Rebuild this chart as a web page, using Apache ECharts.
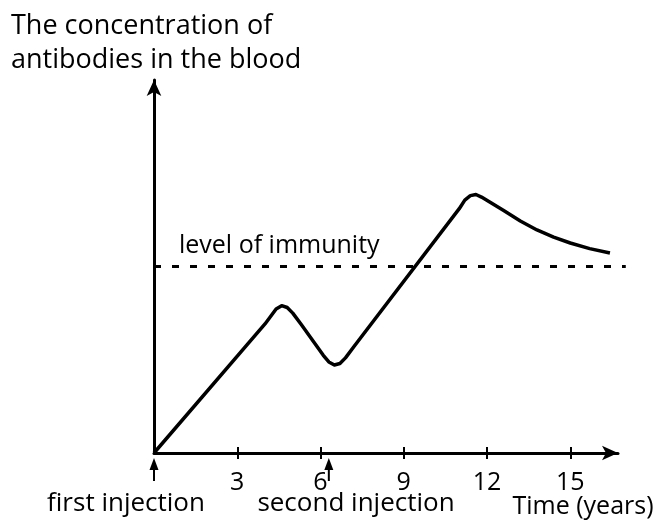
<!DOCTYPE html>
<html>
<head>
<meta charset="utf-8">
<script src="https://cdn.jsdelivr.net/npm/echarts@6/dist/echarts.min.js"></script>
<style>
  html, body { margin: 0; padding: 0; background: #fff; }
  #chart { width: 662px; height: 529px; }
</style>
</head>
<body>
<div id="chart"></div>
<script>
// time in years, concentration in arbitrary units (0..10)
var timeYears = [0, 4.0, 4.2, 4.4, 4.6, 4.8, 5.0, 5.3, 6.1, 6.3, 6.5, 6.7, 6.9, 7.2,
    11.0, 11.2, 11.4, 11.6, 11.8, 12.6, 13.2, 13.8, 14.4, 15.0, 15.7, 16.43];
var concentration = [0, 3.46, 3.66, 3.86, 3.95, 3.9, 3.75, 3.45, 2.62, 2.44, 2.36, 2.4, 2.55, 2.85,
    6.55, 6.78, 6.9, 6.93, 6.86, 6.5, 6.22, 5.98, 5.79, 5.63, 5.48, 5.36];
var immunityLevel = 5.0;
var immunityRange = [0, 17];
var tickValues = [3, 6, 9, 12, 15];
var tickLabels = ['3', '6', '9', '12', '15'];
var injectionTimes = [0, 6.3];
var injectionNames = ['first injection', 'second injection'];

var font = "'Open Sans', 'DejaVu Sans', sans-serif";
var chartDom = document.getElementById('chart');
var myChart = echarts.init(chartDom);

var curve = timeYears.map(function (t, i) { return [t, concentration[i]]; });
var pxPerYear = (662 - 154 - 44) / 16.72;

var xCommon = {
    type: 'value',
    gridIndex: 0,
    min: 0,
    max: 16.72,
    interval: 3,
    splitLine: { show: false }
};

var option = {
    animation: false,
    backgroundColor: '#fff',
    title: {
        text: 'The concentration of\nantibodies in the blood',
        left: 6,
        top: 4,
        textStyle: { fontFamily: font, fontSize: 27, fontWeight: 'normal', color: '#000', lineHeight: 34 }
    },
    grid: [
        { left: 154, right: 44, top: 80, bottom: 76 },
        // wider grid with the same scale, so the dashed level can run past the axis arrow
        { left: 154, right: 662 - 154 - 17.1 * pxPerYear, top: 80, bottom: 76 }
    ],
    xAxis: [
        Object.assign({}, xCommon, {
            axisLine: { lineStyle: { color: '#000', width: 3 }, symbol: ['none', 'arrow'], symbolSize: [11, 16] },
            axisTick: { show: true, length: 6, customValues: tickValues, lineStyle: { color: '#000', width: 2 } },
            axisLabel: {
                margin: 17,
                color: '#000',
                fontFamily: font,
                fontSize: 25,
                customValues: tickValues,
                formatter: function (v) {
                    return tickLabels[tickValues.indexOf(v)] || '';
                }
            }
        }),
        Object.assign({}, xCommon, {
            position: 'bottom',
            axisLine: { show: false },
            axisTick: { show: true, inside: true, length: 6, customValues: tickValues, lineStyle: { color: '#000', width: 2 } },
            axisLabel: { show: false }
        }),
        { type: 'value', gridIndex: 1, min: 0, max: 17.1, show: false }
    ],
    yAxis: [
        {
            type: 'value',
            gridIndex: 0,
            min: 0,
            max: 10,
            axisLine: { show: true, lineStyle: { color: '#000', width: 3 }, symbol: ['none', 'arrow'], symbolSize: [11, 16] },
            axisTick: { show: false },
            axisLabel: { show: false },
            splitLine: { show: false }
        },
        { type: 'value', gridIndex: 1, min: 0, max: 10, show: false }
    ],
    series: [
        {
            type: 'line',
            data: curve,
            smooth: false,
            showSymbol: false,
            lineStyle: { color: '#000', width: 3.5, join: 'round' }
        },
        {
            type: 'line',
            xAxisIndex: 2,
            yAxisIndex: 1,
            data: immunityRange.map(function (t) { return [t, immunityLevel]; }),
            showSymbol: false,
            lineStyle: { color: '#000', width: 3, type: [7, 11] }
        }
    ]
};
myChart.setOption(option);

// annotations placed from data coordinates
var graphics = [];
injectionTimes.forEach(function (t, i) {
    var p = myChart.convertToPixel({ xAxisIndex: 0, yAxisIndex: 0 }, [t, 0]);
    graphics.push({
        type: 'line',
        shape: { x1: p[0], y1: p[1] + 28, x2: p[0], y2: p[1] + 14 },
        style: { stroke: '#000', lineWidth: 2 }
    });
    graphics.push({
        type: 'polygon',
        shape: { points: [[p[0], p[1] + 5], [p[0] - 4.5, p[1] + 17], [p[0] + 4.5, p[1] + 17]] },
        style: { fill: '#000' }
    });
});
var lv = myChart.convertToPixel({ xAxisIndex: 0, yAxisIndex: 0 }, [0.9, immunityLevel]);
graphics.push({
    type: 'text', x: lv[0], y: lv[1] - 8,
    style: { text: 'level of immunity', font: '25px ' + font, fill: '#000', verticalAlign: 'bottom' }
});
graphics.push({
    type: 'text', x: 126, y: 504,
    style: { text: injectionNames[0], font: '26px ' + font, fill: '#000', align: 'center', verticalAlign: 'middle' }
});
graphics.push({
    type: 'text', x: 356, y: 504,
    style: { text: injectionNames[1], font: '26px ' + font, fill: '#000', align: 'center', verticalAlign: 'middle' }
});
graphics.push({
    type: 'text', x: 583, y: 507,
    style: { text: 'Time (years)', font: '25px ' + font, fill: '#000', align: 'center', verticalAlign: 'middle' }
});
myChart.setOption({ graphic: graphics });
</script>
</body>
</html>
